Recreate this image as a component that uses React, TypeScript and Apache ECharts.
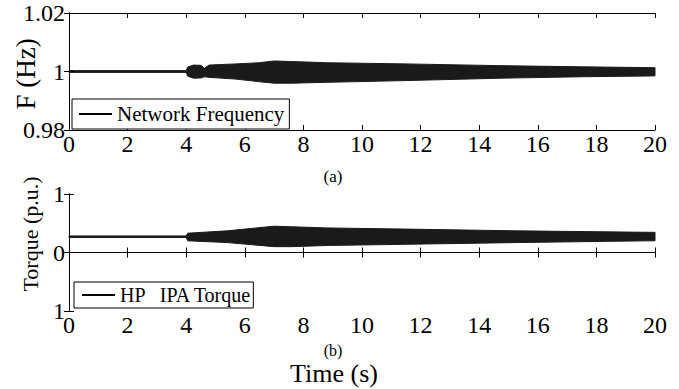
import React, { useEffect, useRef } from "react";
import * as echarts from "echarts";

// Frequency envelope (upper / lower bound of the fast oscillation)
const freqTime = [0, 4.0, 4.05, 4.25, 4.5, 4.62, 4.78, 5.7, 6.5, 7.0, 7.6, 8.8, 11.5, 14.7, 17.5, 20];
const freqUpper = [1.0003, 1.0003, 1.0015, 1.0022, 1.0021, 1.0011, 1.0022, 1.0026, 1.003, 1.0036, 1.0034, 1.003, 1.0026, 1.002, 1.0016, 1.0013];
const freqLower = [0.9997, 0.9997, 0.9984, 0.9977, 0.9978, 0.9982, 0.998, 0.9974, 0.9965, 0.996, 0.996, 0.9963, 0.9969, 0.9977, 0.9982, 0.9985];

// HP-IPA torque envelope
const torqueTime = [0, 4.0, 4.05, 5.4, 7.0, 7.6, 8.8, 11.5, 15.3, 19.8, 20];
const torqueUpper = [0.283, 0.283, 0.33, 0.37, 0.45, 0.44, 0.42, 0.4, 0.37, 0.345, 0.345];
const torqueLower = [0.257, 0.257, 0.2, 0.17, 0.1, 0.1, 0.12, 0.14, 0.17, 0.2, 0.2];

const xTicks = [0, 2, 4, 6, 8, 10, 12, 14, 16, 18, 20];
const freqTickLabels = ["0.98", "1", "1.02"];
const torqueTickLabels = ["1", "0", "1"];

const FONT = "'Liberation Serif', serif";

export default function App() {
  const ref = useRef<HTMLDivElement>(null);
  useEffect(() => {
    if (!ref.current) return;
    const chart = echarts.init(ref.current, undefined, { renderer: "svg" });

    const gridLeft = 69;
    const gridWidth = 586;
    const gridHeight = 117;
    const tick = { show: true, inside: true, length: 5, lineStyle: { color: "#000", width: 1 } };
    const line = { show: true, lineStyle: { color: "#000", width: 1 } };
    const lbl = { color: "#000", fontFamily: FONT, fontSize: 24 };

    const xAxisBase = (gi: number, pos: "bottom" | "top", showLabel: boolean) => ({
      type: "value" as const,
      gridIndex: gi,
      position: pos,
      min: xTicks[0],
      max: xTicks[xTicks.length - 1],
      interval: xTicks[1] - xTicks[0],
      axisLine: line,
      axisTick: tick,
      splitLine: { show: false },
      axisLabel: { ...lbl, show: showLabel, margin: 2 },
      z: 5,
    });

    const fmtFreq = (v: number) => {
      const i = Math.round((v - 0.98) / 0.02);
      return freqTickLabels[i] ?? "";
    };
    const fmtTorque = (v: number) => {
      const i = Math.round(v + 1);
      return torqueTickLabels[i] ?? "";
    };

    const yAxisBase = (gi: number, pos: "left" | "right", showLabel: boolean, min: number, max: number, interval: number, fmt: (v: number) => string) => ({
      type: "value" as const,
      gridIndex: gi,
      position: pos,
      min,
      max,
      interval,
      axisLine: line,
      axisTick: tick,
      splitLine: { show: false },
      axisLabel: { ...lbl, show: showLabel, margin: 4, formatter: fmt },
      z: 5,
    });

    const band = (name: string, axisIdx: number, t: number[], lo: number[], hi: number[]) => ({
      name,
      type: "custom",
      xAxisIndex: axisIdx,
      yAxisIndex: axisIdx,
      silent: true,
      color: "#1a1a1a",
      data: t.map((x, i) => [x, hi[i], lo[i]]),
      renderItem: (params: any, api: any) => {
        if (params.dataIndex !== 0) return null;
        const pts: number[][] = [];
        for (let i = 0; i < t.length; i++) pts.push(api.coord([t[i], hi[i]]));
        for (let i = t.length - 1; i >= 0; i--) pts.push(api.coord([t[i], lo[i]]));
        return {
          type: "polygon",
          shape: { points: pts },
          style: { fill: "#1a1a1a", stroke: "#1a1a1a", lineWidth: 1 },
        };
      },
    });

    const legendCommon = {
      orient: "horizontal" as const,
      borderColor: "#000",
      borderWidth: 1,
      backgroundColor: "#fff",
      itemWidth: 33,
      itemHeight: 2,
      icon: "rect",
      itemStyle: { color: "#000" },
      selectedMode: false,
      z: 10,
    };

    chart.setOption({
      animation: false,
      grid: [
        { left: gridLeft, top: 13, width: gridWidth, height: gridHeight, show: false },
        { left: gridLeft, top: 194, width: gridWidth, height: gridHeight, show: false },
      ],
      xAxis: [
        xAxisBase(0, "bottom", true),
        xAxisBase(1, "bottom", true),
        xAxisBase(0, "top", false),
        xAxisBase(1, "top", false),
      ],
      yAxis: [
        yAxisBase(0, "left", true, 0.98, 1.02, 0.02, fmtFreq),
        yAxisBase(1, "left", true, -1, 1, 1, fmtTorque),
        yAxisBase(0, "right", false, 0.98, 1.02, 0.02, fmtFreq),
        yAxisBase(1, "right", false, -1, 1, 1, fmtTorque),
      ],
      legend: [
        {
          ...legendCommon,
          left: 72,
          top: 99,
          padding: [4, 5, 4, 7],
          textStyle: { color: "#000", fontFamily: FONT, fontSize: 21, lineHeight: 22 },
          data: ["Network Frequency"],
        },
        {
          ...legendCommon,
          left: 74,
          top: 282,
          padding: [2, 1, 2, 8],
          textStyle: { color: "#000", fontFamily: FONT, fontSize: 20, lineHeight: 22 },
          data: ["HP   IPA Torque"],
        },
      ],
      series: [
        band("Network Frequency", 0, freqTime, freqLower, freqUpper),
        band("HP   IPA Torque", 1, torqueTime, torqueLower, torqueUpper),
      ],
      graphic: [
        {
          type: "text",
          x: 26,
          y: 74,
          rotation: Math.PI / 2,
          style: { text: "F (Hz)", fill: "#000", font: `27px ${FONT}`, align: "center", verticalAlign: "middle" },
        },
        {
          type: "text",
          x: 30,
          y: 234,
          rotation: Math.PI / 2,
          style: { text: "Torque (p.u.)", fill: "#000", font: `22px ${FONT}`, align: "center", verticalAlign: "middle" },
        },
        {
          type: "text",
          x: 333,
          y: 176,
          style: { text: "(a)", fill: "#000", font: `17px ${FONT}`, align: "center", verticalAlign: "middle" },
        },
        {
          type: "text",
          x: 333,
          y: 350,
          style: { text: "(b)", fill: "#000", font: `16px ${FONT}`, align: "center", verticalAlign: "middle" },
        },
        {
          type: "text",
          x: 334,
          y: 373,
          style: { text: "Time (s)", fill: "#000", font: `26px ${FONT}`, align: "center", verticalAlign: "middle" },
        },
      ],
    });
    return () => chart.dispose();
  }, []);
  return (
    <div
      ref={ref}
      style={{ position: "fixed", left: 0, top: 0, width: 679, height: 389, background: "#fff" }}
    />
  );
}
